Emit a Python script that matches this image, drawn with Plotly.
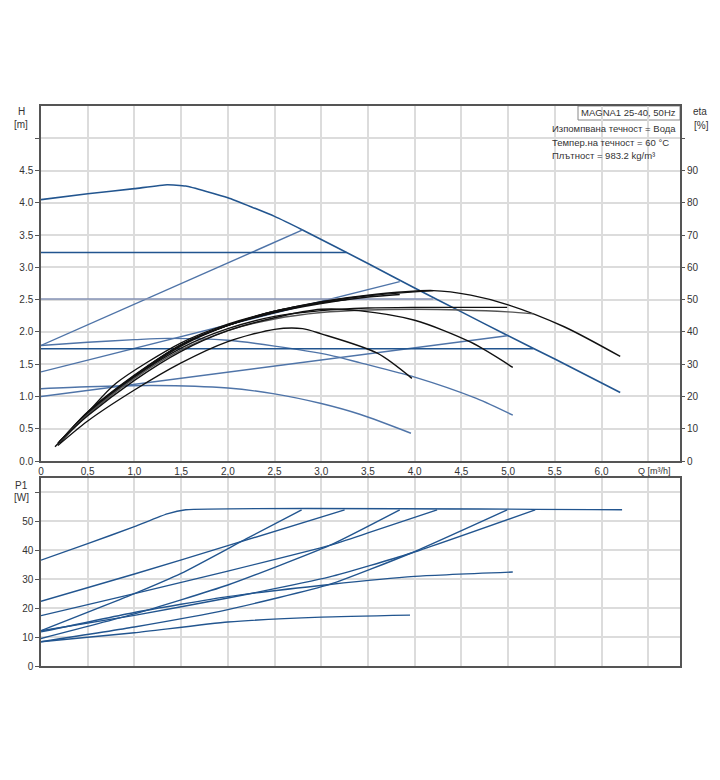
import plotly.graph_objects as go

# ---------------- data ----------------
# Head curves H [m] vs Q [m3/h]
max_q = [0, 0.5, 1.0, 1.35, 1.55, 2.0, 2.5, 2.8, 3.5, 4.0, 4.5, 5.0, 5.5, 6.2]
max_h = [4.05, 4.14, 4.22, 4.28, 4.26, 4.08, 3.79, 3.58, 3.06, 2.68, 2.31, 1.94, 1.58, 1.06]
med_q = [0, 0.5, 1.0, 1.36, 2.0, 2.5, 3.09, 3.42, 4.0, 4.66, 5.05]
med_h = [1.79, 1.84, 1.88, 1.90, 1.87, 1.78, 1.64, 1.52, 1.30, 0.97, 0.71]
min_q = [0, 0.5, 1.2, 2.0, 2.5, 3.0, 3.42, 3.96]
min_h = [1.12, 1.15, 1.17, 1.13, 1.04, 0.89, 0.72, 0.43]
pp_q = [[0, 2.8], [0, 3.84], [0, 4.99]]
pp_h = [[1.79, 3.58], [1.38, 2.78], [1.00, 1.94]]
cp_q = [[0, 3.27], [0, 4.2], [0, 5.27]]
cp_h = [[3.23, 3.23], [2.51, 2.51], [1.74, 1.74]]

# Efficiency curves eta [%]
eta_curves = [
    ([0.15, 0.5, 0.8, 1.5, 2.0, 2.5, 3.0, 3.5, 4.2, 4.6, 5.0, 5.6, 6.2],
     [4.4, 15, 24, 36.6, 42.4, 46.4, 49.4, 51.4, 52.8, 51.4, 48.4, 41.6, 32.4]),
    ([0.2, 0.5, 1.0, 1.5, 2.0, 2.5, 2.8],
     [6, 14.8, 26.4, 36, 42, 46, 48]),
    ([0.2, 0.5, 1.0, 1.5, 2.0, 2.5, 3.0, 3.27],
     [5.6, 14.4, 26, 35.6, 42, 46.4, 49, 50]),
    ([0.2, 0.5, 1.0, 1.5, 2.0, 2.5, 3.0, 3.5, 3.84],
     [6, 15.2, 26.4, 36, 42, 46, 48.8, 50.8, 51.6]),
    ([0.2, 0.5, 1.0, 1.5, 2.0, 2.5, 3.0, 3.5, 4.2],
     [6, 15.2, 26.6, 36, 42, 46.4, 49.2, 51.2, 52.8]),
    ([0.2, 0.5, 1.0, 1.5, 2.0, 2.5, 3.0, 3.5, 4.0, 4.5, 4.99],
     [6, 14.8, 26, 35, 41, 44.8, 46.6, 47.4, 47.6, 47.6, 47.6]),
    ([0.2, 0.5, 1.0, 1.5, 2.0, 2.5, 3.0, 3.5, 4.0, 4.5, 5.0, 5.27],
     [6, 14.4, 25.6, 34.4, 40.4, 44, 46, 46.8, 47, 46.8, 46.2, 45.6]),
    ([0.18, 0.5, 1.0, 1.5, 2.0, 2.5, 3.0, 3.4, 4.0, 4.6, 5.05],
     [5.6, 14, 25, 34, 40.4, 44.4, 47, 46.6, 43.6, 36.8, 29]),
    ([0.18, 0.5, 1.0, 1.5, 2.0, 2.5, 2.8, 3.0, 3.6, 3.97],
     [4.8, 12.4, 22, 30.4, 37, 40.8, 41, 39.4, 33.4, 25.6]),
]

# Power curves P1 [W]
p_curves = [
    ([0, 0.5, 1.0, 1.35, 1.55, 6.22], [36.6, 42.3, 48.2, 52.6, 54, 54]),
    ([0, 1.0, 2.0, 3.25], [22.4, 31.8, 41.6, 54]),
    ([0, 1.0, 2.0, 3.09, 3.5, 4.24], [17.4, 25, 32.8, 41.7, 46, 54]),
    ([0, 1.0, 2.0, 3.09, 3.95, 5.29], [12.2, 17.5, 23.5, 30.8, 38.9, 54]),
    ([0, 1.0, 1.5, 2.2, 2.79], [12.2, 25, 32, 44, 54]),
    ([0, 1.0, 2.0, 3.09, 3.84], [9.5, 18, 28, 41.7, 54]),
    ([0, 1.0, 2.0, 3.09, 3.95, 4.99], [8.4, 13.5, 19.5, 28.2, 38.9, 54]),
    ([0, 1.0, 2.0, 3.09, 4.0, 5.05], [11.8, 18.5, 24, 28.2, 31, 32.5]),
    ([0, 1.0, 2.0, 3.0, 3.95], [8.4, 11.5, 15.2, 16.9, 17.6]),
]

q_ticks = [0, 0.5, 1.0, 1.5, 2.0, 2.5, 3.0, 3.5, 4.0, 4.5, 5.0, 5.5, 6.0, 6.5]
q_labels = ["0", "0,5", "1,0", "1,5", "2,0", "2,5", "3,0", "3,5", "4,0", "4,5",
            "5,0", "5,5", "6,0", ""]
h_ticks = [0, 0.5, 1.0, 1.5, 2.0, 2.5, 3.0, 3.5, 4.0, 4.5, 5.0]
h_labels = ["0.0", "0.5", "1.0", "1.5", "2.0", "2.5", "3.0", "3.5", "4.0", "4.5", ""]
eta_ticks = [0, 10, 20, 30, 40, 50, 60, 70, 80, 90, 100]
eta_labels = ["0", "10", "20", "30", "40", "50", "60", "70", "80", "90", ""]
p_ticks = [0, 10, 20, 30, 40, 50, 60]
p_labels = ["0", "10", "20", "30", "40", "50", ""]

title_text = "MAGNA1 25-40, 50Hz"
info_lines = ["Изпомпвана течност = Вода", "Темпер.на течност = 60 °C",
              "Плътност = 983.2 kg/m³"]

# ---------------- figure ----------------
W, H = 720, 780
ML, MR, MT, MB = 41, 40, 106, 114
PW, PH = W - ML - MR, H - MT - MB


def px(x):
    return (x - ML) / PW


def py(y):
    return (H - MB - y) / PH


BLUE = "#22558f"
LBLUE = "#4f74a8"
FONT = "Liberation Sans, Arial, sans-serif"

fig = go.Figure()

# efficiency (black)
for i, (q, e) in enumerate(eta_curves):
    fig.add_trace(go.Scatter(x=q, y=e, mode="lines", xaxis="x", yaxis="y2",
                             line=dict(color="#111111" if i != 6 else "#555555",
                                       width=1.4, shape="spline", smoothing=0.8),
                             hoverinfo="skip"))

# head curves
fig.add_trace(go.Scatter(x=max_q, y=max_h, mode="lines", xaxis="x", yaxis="y",
                         line=dict(color=BLUE, width=1.6, shape="spline", smoothing=0.4)))
fig.add_trace(go.Scatter(x=med_q, y=med_h, mode="lines", xaxis="x", yaxis="y",
                         line=dict(color=LBLUE, width=1.4, shape="spline", smoothing=0.8)))
fig.add_trace(go.Scatter(x=min_q, y=min_h, mode="lines", xaxis="x", yaxis="y",
                         line=dict(color=LBLUE, width=1.4, shape="spline", smoothing=0.8)))
for q, h in zip(pp_q, pp_h):
    fig.add_trace(go.Scatter(x=q, y=h, mode="lines", xaxis="x", yaxis="y",
                             line=dict(color=LBLUE, width=1.4)))
cp_cols = [BLUE, "#8592b4", BLUE]
for (q, h), c in zip(zip(cp_q, cp_h), cp_cols):
    fig.add_trace(go.Scatter(x=q, y=h, mode="lines", xaxis="x", yaxis="y",
                             line=dict(color=c, width=1.4)))

# power curves
for q, p in p_curves:
    fig.add_trace(go.Scatter(x=q, y=p, mode="lines", xaxis="x2", yaxis="y3",
                             line=dict(color=BLUE, width=1.4, shape="spline", smoothing=0.5)))

GRID = "#dcdcdc"
AX = "#555555"
tickfont = dict(family=FONT, size=10, color="#333333")
common_x = dict(range=[0, 6.84], tickvals=q_ticks, showgrid=True, gridcolor=GRID,
                gridwidth=1.5, showline=True, linecolor=AX, linewidth=1.5, mirror=True,
                zeroline=False, ticks="", tickfont=tickfont)

fig.update_layout(
    width=W, height=H, margin=dict(l=ML, r=MR, t=MT, b=MB),
    paper_bgcolor="white", plot_bgcolor="white", showlegend=False,
    xaxis=dict(**common_x, domain=[0, 1], anchor="y", ticktext=q_labels),
    yaxis=dict(domain=[py(461), 1], range=[0, 5.5], tickvals=h_ticks, ticktext=h_labels,
               showgrid=True, gridcolor=GRID, gridwidth=1.5, showline=True,
               linecolor=AX, linewidth=1.5, mirror=True, zeroline=False,
               ticks="outside", ticklen=4, tickcolor=AX, tickfont=tickfont),
    yaxis2=dict(overlaying="y", side="right", anchor="x", range=[0, 110],
                tickvals=eta_ticks, ticktext=eta_labels, showgrid=False,
                zeroline=False, ticks="outside", ticklen=4, tickcolor=AX,
                showline=False, tickfont=tickfont),
    xaxis2=dict(**common_x, domain=[0, 1], anchor="y3", showticklabels=False),
    yaxis3=dict(domain=[0, py(478)], range=[0, 65], tickvals=p_ticks, ticktext=p_labels,
                showgrid=True, gridcolor=GRID, gridwidth=1.5, showline=True,
                linecolor=AX, linewidth=1.5, mirror=True, zeroline=False,
                ticks="outside", ticklen=4, tickcolor=AX, tickfont=tickfont),
)

ann = []


def add_text(x, y, t, xa="center", size=10):
    ann.append(dict(x=px(x), y=py(y), xref="paper", yref="paper", text=t,
                    showarrow=False, xanchor=xa, yanchor="middle",
                    font=dict(family=FONT, size=size, color="#333333")))


add_text(21, 112, "H")
add_text(21, 124, "[m]")
add_text(700, 112, "eta")
add_text(701, 125, "[%]")
add_text(21, 485, "P1")
add_text(21, 497, "[W]")
add_text(654, 471, "Q [m³/h]", size=9)
add_text(628, 113, title_text, size=9.5)
for i, t in enumerate(info_lines):
    add_text(550, 129 + 13 * i, t, xa="left", size=9.5)
fig.update_layout(annotations=ann)

fig.add_shape(type="rect", xref="paper", yref="paper", x0=px(578), x1=px(680),
              y0=py(120), y1=py(106), line=dict(color="#888888", width=1),
              fillcolor="white", layer="below")

fig.write_html("out.html")
